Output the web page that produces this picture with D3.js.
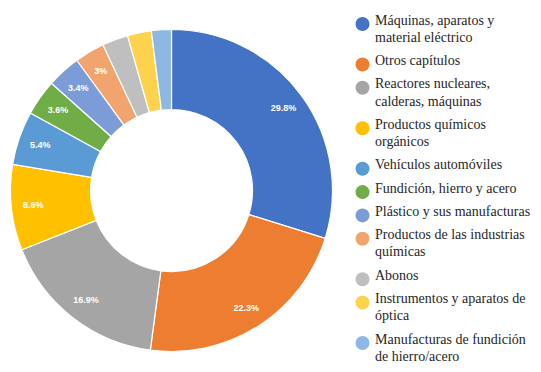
<!DOCTYPE html>
<html>
<head>
<meta charset="utf-8">
<script src="https://cdn.jsdelivr.net/npm/d3@7"></script>
<style>
	body { margin: 0; background: #fff; }
	svg { display: block; }
	.legend-text { font-family: 'Liberation Serif', 'Times New Roman', serif; }
</style>
</head>
<body>
<div id="chart"></div>
<script>
// chart data
// legend labels keep the reference's line breaks
var categories = [
	['Máquinas, aparatos y', 'material eléctrico'],
	['Otros capítulos'],
	['Reactores nucleares,', 'calderas, máquinas'],
	['Productos químicos', 'orgánicos'],
	['Vehículos automóviles'],
	['Fundición, hierro y acero'],
	['Plástico y sus manufacturas'],
	['Productos de las industrias', 'químicas'],
	['Abonos'],
	['Instrumentos y aparatos de', 'óptica'],
	['Manufacturas de fundición', 'de hierro/acero']
];
var values = [29.8, 22.3, 16.9, 8.6, 5.4, 3.6, 3.4, 3, 2.6, 2.4, 2.0];
var showLabel = [true, true, true, true, true, true, true, true, false, false, false];
var colors = ['#4472C4', '#ED7D31', '#A5A5A5', '#FFC000', '#5B9BD5', '#70AD47',
	'#7C9CD8', '#F1A46D', '#BFBFBF', '#FFD24D', '#8DB8E3'];

var width = 541;
var height = 372;
var cx = 171.5;
var cy = 190.5;
var outerR = 161;
var innerR = 81;
var labelR = 139;

var svg = d3.select('#chart')
	.append('svg')
	.attr('width', width)
	.attr('height', height);

var pie = d3.pie()
	.sort(null)
	.value(function(d) { return d; });

var arc = d3.arc()
	.innerRadius(innerR)
	.outerRadius(outerR);

var labelArc = d3.arc()
	.innerRadius(labelR)
	.outerRadius(labelR);

var g = svg.append('g')
	.attr('transform', 'translate(' + cx + ',' + cy + ')');

var slices = pie(values);

g.selectAll('path')
	.data(slices)
	.enter()
	.append('path')
	.attr('d', arc)
	.attr('fill', function(d, i) { return colors[i]; })
	.attr('stroke', '#fff')
	.attr('stroke-width', 1.2);

g.selectAll('text.pct')
	.data(slices.filter(function(d, i) { return showLabel[i]; }))
	.enter()
	.append('text')
	.attr('class', 'pct')
	.attr('transform', function(d) { return 'translate(' + labelArc.centroid(d) + ')'; })
	.attr('text-anchor', 'middle')
	.attr('dy', '0.35em')
	.style('font-family', '"Liberation Sans", Arial, sans-serif')
	.style('font-size', '9px')
	.style('font-weight', 'bold')
	.style('fill', '#fff')
	.text(function(d) { return d.data + '%'; });

// legend
var legendX = 375;
var lineH = 17.2;
var entryGap = 6.1;

var legend = svg.append('g');
var y = 24.5;

categories.forEach(function(lines, i) {
	legend.append('circle')
		.attr('cx', 362.5)
		.attr('cy', y - 0.5)
		.attr('r', 7)
		.attr('fill', colors[i]);

	var t = legend.append('text')
		.attr('class', 'legend-text')
		.attr('x', legendX)
		.attr('y', y)
		.attr('dy', '0.35em')
		.style('font-size', '14px')
		.style('fill', '#262626');

	t.selectAll('tspan')
		.data(lines)
		.enter()
		.append('tspan')
		.attr('x', legendX)
		.attr('dy', function(d, j) { return j ? lineH : 0; })
		.text(function(d) { return d; });

	y += lines.length * lineH + entryGap;
});
</script>
</body>
</html>
